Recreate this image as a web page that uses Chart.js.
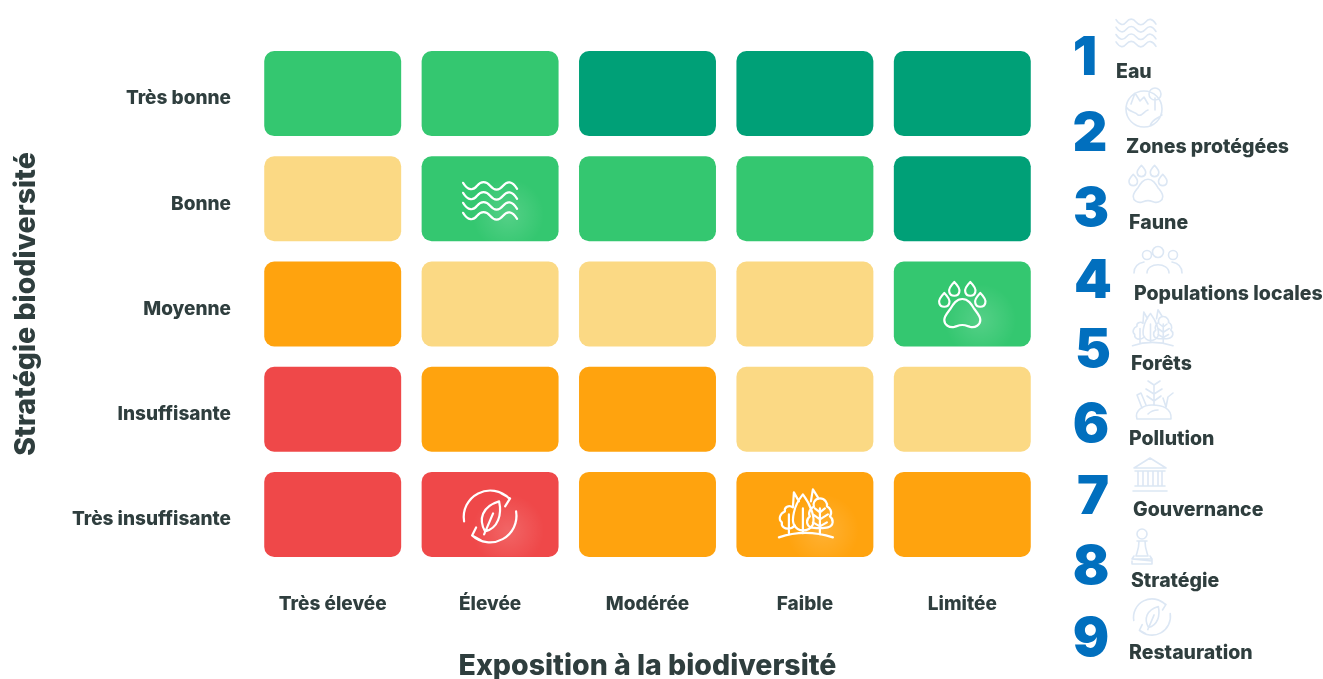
<!DOCTYPE html>
<html>
<head>
<meta charset="utf-8">
<title>Exposition et stratégie biodiversité</title>
<script src="https://cdn.jsdelivr.net/npm/chart.js@4"></script>
<style>
  html, body { margin: 0; padding: 0; background: #fff; }
  canvas { display: block; }
</style>
</head>
<body>
<canvas id="chart" width="1323" height="679"></canvas>
<script>
const FONT = 'Inter, "Open Sans", sans-serif';
const DARK = '#2f3e3e';

const exposition = ['Très élevée', 'Élevée', 'Modérée', 'Faible', 'Limitée'];
const strategie = ['Très bonne', 'Bonne', 'Moyenne', 'Insuffisante', 'Très insuffisante'];

// score of each cell, 0 = worst, 4 = best
const tresBonne = [3, 3, 4, 4, 4];
const bonne = [2, 3, 3, 3, 4];
const moyenne = [1, 2, 2, 2, 3];
const insuffisante = [0, 1, 1, 2, 2];
const tresInsuffisante = [0, 0, 1, 1, 1];
const rows = [tresBonne, bonne, moyenne, insuffisante, tresInsuffisante];

const palette = ['#ef4849', '#ffa30e', '#fbd984', '#34c770', '#00a077'];

const themes = ['Eau', 'Zones protégées', 'Faune', 'Populations locales', 'Forêts', 'Pollution', 'Gouvernance', 'Stratégie', 'Restauration'];
const themeIcons = ['water', 'globe', 'paw', 'people', 'forest', 'pollution', 'temple', 'pawn', 'cycle'];

// which theme sits in which cell: [theme index, column, row]
const placed = [[0, 1, 1], [2, 4, 2], [8, 1, 4], [4, 3, 4]];

// legend layout, pixels
const numX = [1085, 1090, 1091, 1093, 1093, 1091, 1093, 1091, 1091];
const numY = [59, 135, 210, 282, 351, 426, 498, 568, 640];
const nameX = [1116, 1126, 1129, 1134, 1131, 1129, 1133, 1131, 1129];
const nameY = [72, 147, 223, 294, 364, 439, 510, 581, 653];
const iconX = [1136, 1144, 1148, 1158, 1152, 1154, 1150, 1142, 1152];
const iconY = [33, 107, 185, 260, 330, 402, 475, 547, 617];
const iconScale = [0.74, 1, 0.82, 1, 0.75, 1, 1, 1, 0.7];

function wave(y) {
  return `M-27 ${y - 3} C-22 ${y + 5} -17 ${y + 5} -13 ${y} C-9 ${y - 5} -4 ${y - 5} 0 ${y} C4 ${y + 5} 9 ${y + 5} 13 ${y} C17 ${y - 5} 22 ${y - 5} 27 ${y + 3}`;
}
function toe(x, y) {
  return `M${x} ${y - 7} C${x + 4} ${y - 3} ${x + 6} ${y} ${x + 5} ${y + 3} C${x + 4} ${y + 8} ${x - 4} ${y + 8} ${x - 5} ${y + 3} C${x - 6} ${y} ${x - 4} ${y - 3} ${x} ${y - 7}Z`;
}
function ring(x, y, r) {
  return `M${x + r} ${y} A${r} ${r} 0 1 1 ${x - r} ${y} A${r} ${r} 0 1 1 ${x + r} ${y}Z`;
}

const iconPaths = {
  water: [wave(-15), wave(-5), wave(5), wave(15)].join(' '),
  paw: 'M0 -7 C6 -7 9 -2 12 3 C15 7 18 10 18 14 C18 19 13 22 8 21 C5 20 3 19 0 19 C-3 19 -5 20 -8 21 C-13 22 -18 19 -18 14 C-18 10 -15 7 -12 3 C-9 -2 -6 -7 0 -7Z ' +
    toe(-8, -17) + ' ' + toe(8, -17) + ' ' + toe(-18, -6) + ' ' + toe(18, -6),
  cycle: 'M-26 5 A26.5 26.5 0 0 1 19 -18 M11 -23 L20 -18 L15 -10 M26 -5 A26.5 26.5 0 0 1 -18 19 M-9 24 L-18 19 L-14 11 ' +
    'M-5 15 C-12 3 -8 -10 9 -15 C12 -2 8 12 -5 15Z M-6 18 L3 -3',
  forest: 'M-26 21 Q0 12 28 21 ' +
    'M-2 -22 C-12 -10 -13 4 -11 8 C-9 12 -5 14 -2 14 C2 14 6 12 8 8 C10 2 7 -10 -2 -22Z M-2 -8 L-2 17 ' +
    'M-12 -9 C-16 -12 -21 -9 -20 -5 C-25 -3 -27 3 -23 6 C-24 10 -20 13 -15 12 C-13 12 -11 10 -10 9 M-16 -2 L-16 18 ' +
    'M15 -18 C9 -18 8 -12 9 -10 C5 -8 3 -3 5 0 C1 3 1 9 6 11 C9 12 20 12 23 11 C29 9 29 3 25 0 C28 -4 25 -9 22 -10 C23 -13 20 -18 15 -18Z ' +
    'M15 -8 L15 18 M15 -4 L10 -8 M15 -4 L20 -8 M15 3 L8 -2 M15 3 L23 -2 M15 10 L8 6 M15 10 L22 6 ' +
    'M-12 -9 L-11 -24 L-6 -15 M6 -15 L8 -27 L13 -19',
  globe: ring(0, 2, 18) + ' M-18 0 C-14 6 -9 4 -6 8 C-2 10 0 4 4 3 M-13 -3 L-9 -14 L-4 -6 L0 -10 L4 -3 ' +
    ring(11, -13, 6) + ' M11 -9 L11 3 M6 19 C8 12 13 12 18 8',
  people: ring(0, -8, 5.5) + ' ' + ring(-11, -5, 4.5) + ' ' + ring(15, -5, 4.5) +
    ' M-11 13 C-11 2 11 2 11 13 M-24 13 C-24 5 -19 3 -14 2 M24 13 C24 5 19 3 14 2',
  pollution: 'M-17 17 C-20 8 -10 3 -2 3 C8 3 18 6 17 17Z M-6 12 C-3 9 0 8 4 8 ' +
    'M0 3 L0 -17 M0 -17 L-6 -21 M0 -17 L6 -21 M0 -8 L-8 -13 M0 -8 L8 -13 M0 -1 L-7 -6 M0 -1 L7 -6 ' +
    'M-12 6 L-17 -7 L-13 -9 L-8 3 M12 5 L14 -5 L19 -9 M12 5 L9 -4',
  temple: 'M-16 -7 L0 -17 L16 -7Z M-15 -4 L15 -4 M-12 -4 L-12 11 M-7 -4 L-7 11 M-2 -4 L-2 11 M3 -4 L3 11 M8 -4 L8 11 M12 -4 L12 11 M-15 11 L15 11 M-17 16 L17 16',
  pawn: ring(0, -13, 5) + ' M-5 -6 L5 -6 M-3 -6 C-3 2 -5 5 -6 9 L6 9 C5 5 3 2 3 -6 M-10 14 L-10 17 L10 17 L10 14 L-10 12 L10 12 L10 14 M-8 9 L-10 12 M8 9 L10 12'
};

function drawIcon(ctx, name, x, y, scale, color, width) {
  ctx.save();
  ctx.translate(x, y);
  ctx.scale(scale, scale);
  ctx.strokeStyle = color;
  ctx.lineWidth = width / scale;
  ctx.lineCap = 'round';
  ctx.lineJoin = 'round';
  ctx.stroke(new Path2D(iconPaths[name]));
  ctx.restore();
}

const overlay = {
  id: 'overlay',
  afterDraw(chart) {
    const ctx = chart.ctx;
    const sx = chart.scales.x, sy = chart.scales.y;

    // white icons and their soft glow in the cells
    placed.forEach(([theme, col, row]) => {
      const x = sx.getPixelForValue(col), y = sy.getPixelForValue(row);
      const gx = x + 18, gy = y + 16;
      const g = ctx.createRadialGradient(gx, gy, 0, gx, gy, 36);
      g.addColorStop(0, 'rgba(255,255,255,0.16)');
      g.addColorStop(1, 'rgba(255,255,255,0)');
      ctx.fillStyle = g;
      ctx.fillRect(gx - 36, gy - 36, 72, 62);
      drawIcon(ctx, themeIcons[theme], x, y + 2, 1, '#fff', 2.2);
    });

    // legend on the right
    themes.forEach((name, i) => {
      drawIcon(ctx, themeIcons[i], iconX[i], iconY[i], iconScale[i], '#dce7f4', 1.6);
      ctx.fillStyle = '#016fbe';
      ctx.font = '900 54px ' + FONT;
      ctx.textAlign = 'center';
      ctx.textBaseline = 'middle';
      ctx.fillText(String(i + 1), numX[i], numY[i]);
      ctx.fillStyle = DARK;
      ctx.font = '800 19.5px ' + FONT;
      ctx.textAlign = 'left';
      ctx.fillText(name, nameX[i], nameY[i]);
    });
  }
};

new Chart(document.getElementById('chart'), {
  type: 'bar',
  data: {
    labels: exposition,
    datasets: rows.map((row, r) => ({
      label: strategie[r],
      data: row.map(() => [r - 0.404, r + 0.404]),
      backgroundColor: row.map(score => palette[score]),
      borderRadius: 10,
      borderSkipped: false,
      borderWidth: 0,
      categoryPercentage: 1,
      barPercentage: 0.87,
      grouped: false
    }))
  },
  options: {
    responsive: false,
    animation: false,
    layout: { padding: { left: 0, right: 282, top: 41, bottom: 0 } },
    plugins: { legend: { display: false }, tooltip: { enabled: false } },
    scales: {
      x: {
        grid: { display: false },
        border: { display: false },
        afterFit: scale => { scale.height = 112; },
        ticks: { color: DARK, font: { family: FONT, size: 19, weight: '800' }, padding: 18, maxRotation: 0 },
        title: {
          display: true,
          text: 'Exposition à la biodiversité',
          color: DARK,
          font: { family: FONT, size: 28.5, weight: '800' },
          padding: { top: 0, bottom: -5 }
        }
      },
      y: {
        type: 'linear',
        reverse: true,
        min: -0.5,
        max: 4.5,
        grid: { display: false },
        border: { display: false },
        afterFit: scale => { scale.width = 254; },
        afterBuildTicks: scale => { scale.ticks = strategie.map((_, i) => ({ value: i })); },
        ticks: {
          color: DARK,
          font: { family: FONT, size: 19, weight: '800' },
          padding: 15,
          labelOffset: 5,
          autoSkip: false,
          callback: value => strategie[value]
        },
        title: {
          display: true,
          text: 'Stratégie biodiversité',
          color: DARK,
          font: { family: FONT, size: 28.5, weight: '800' },
          padding: { top: 9, bottom: 0 }
        }
      }
    }
  },
  plugins: [overlay]
});
</script>
</body>
</html>
